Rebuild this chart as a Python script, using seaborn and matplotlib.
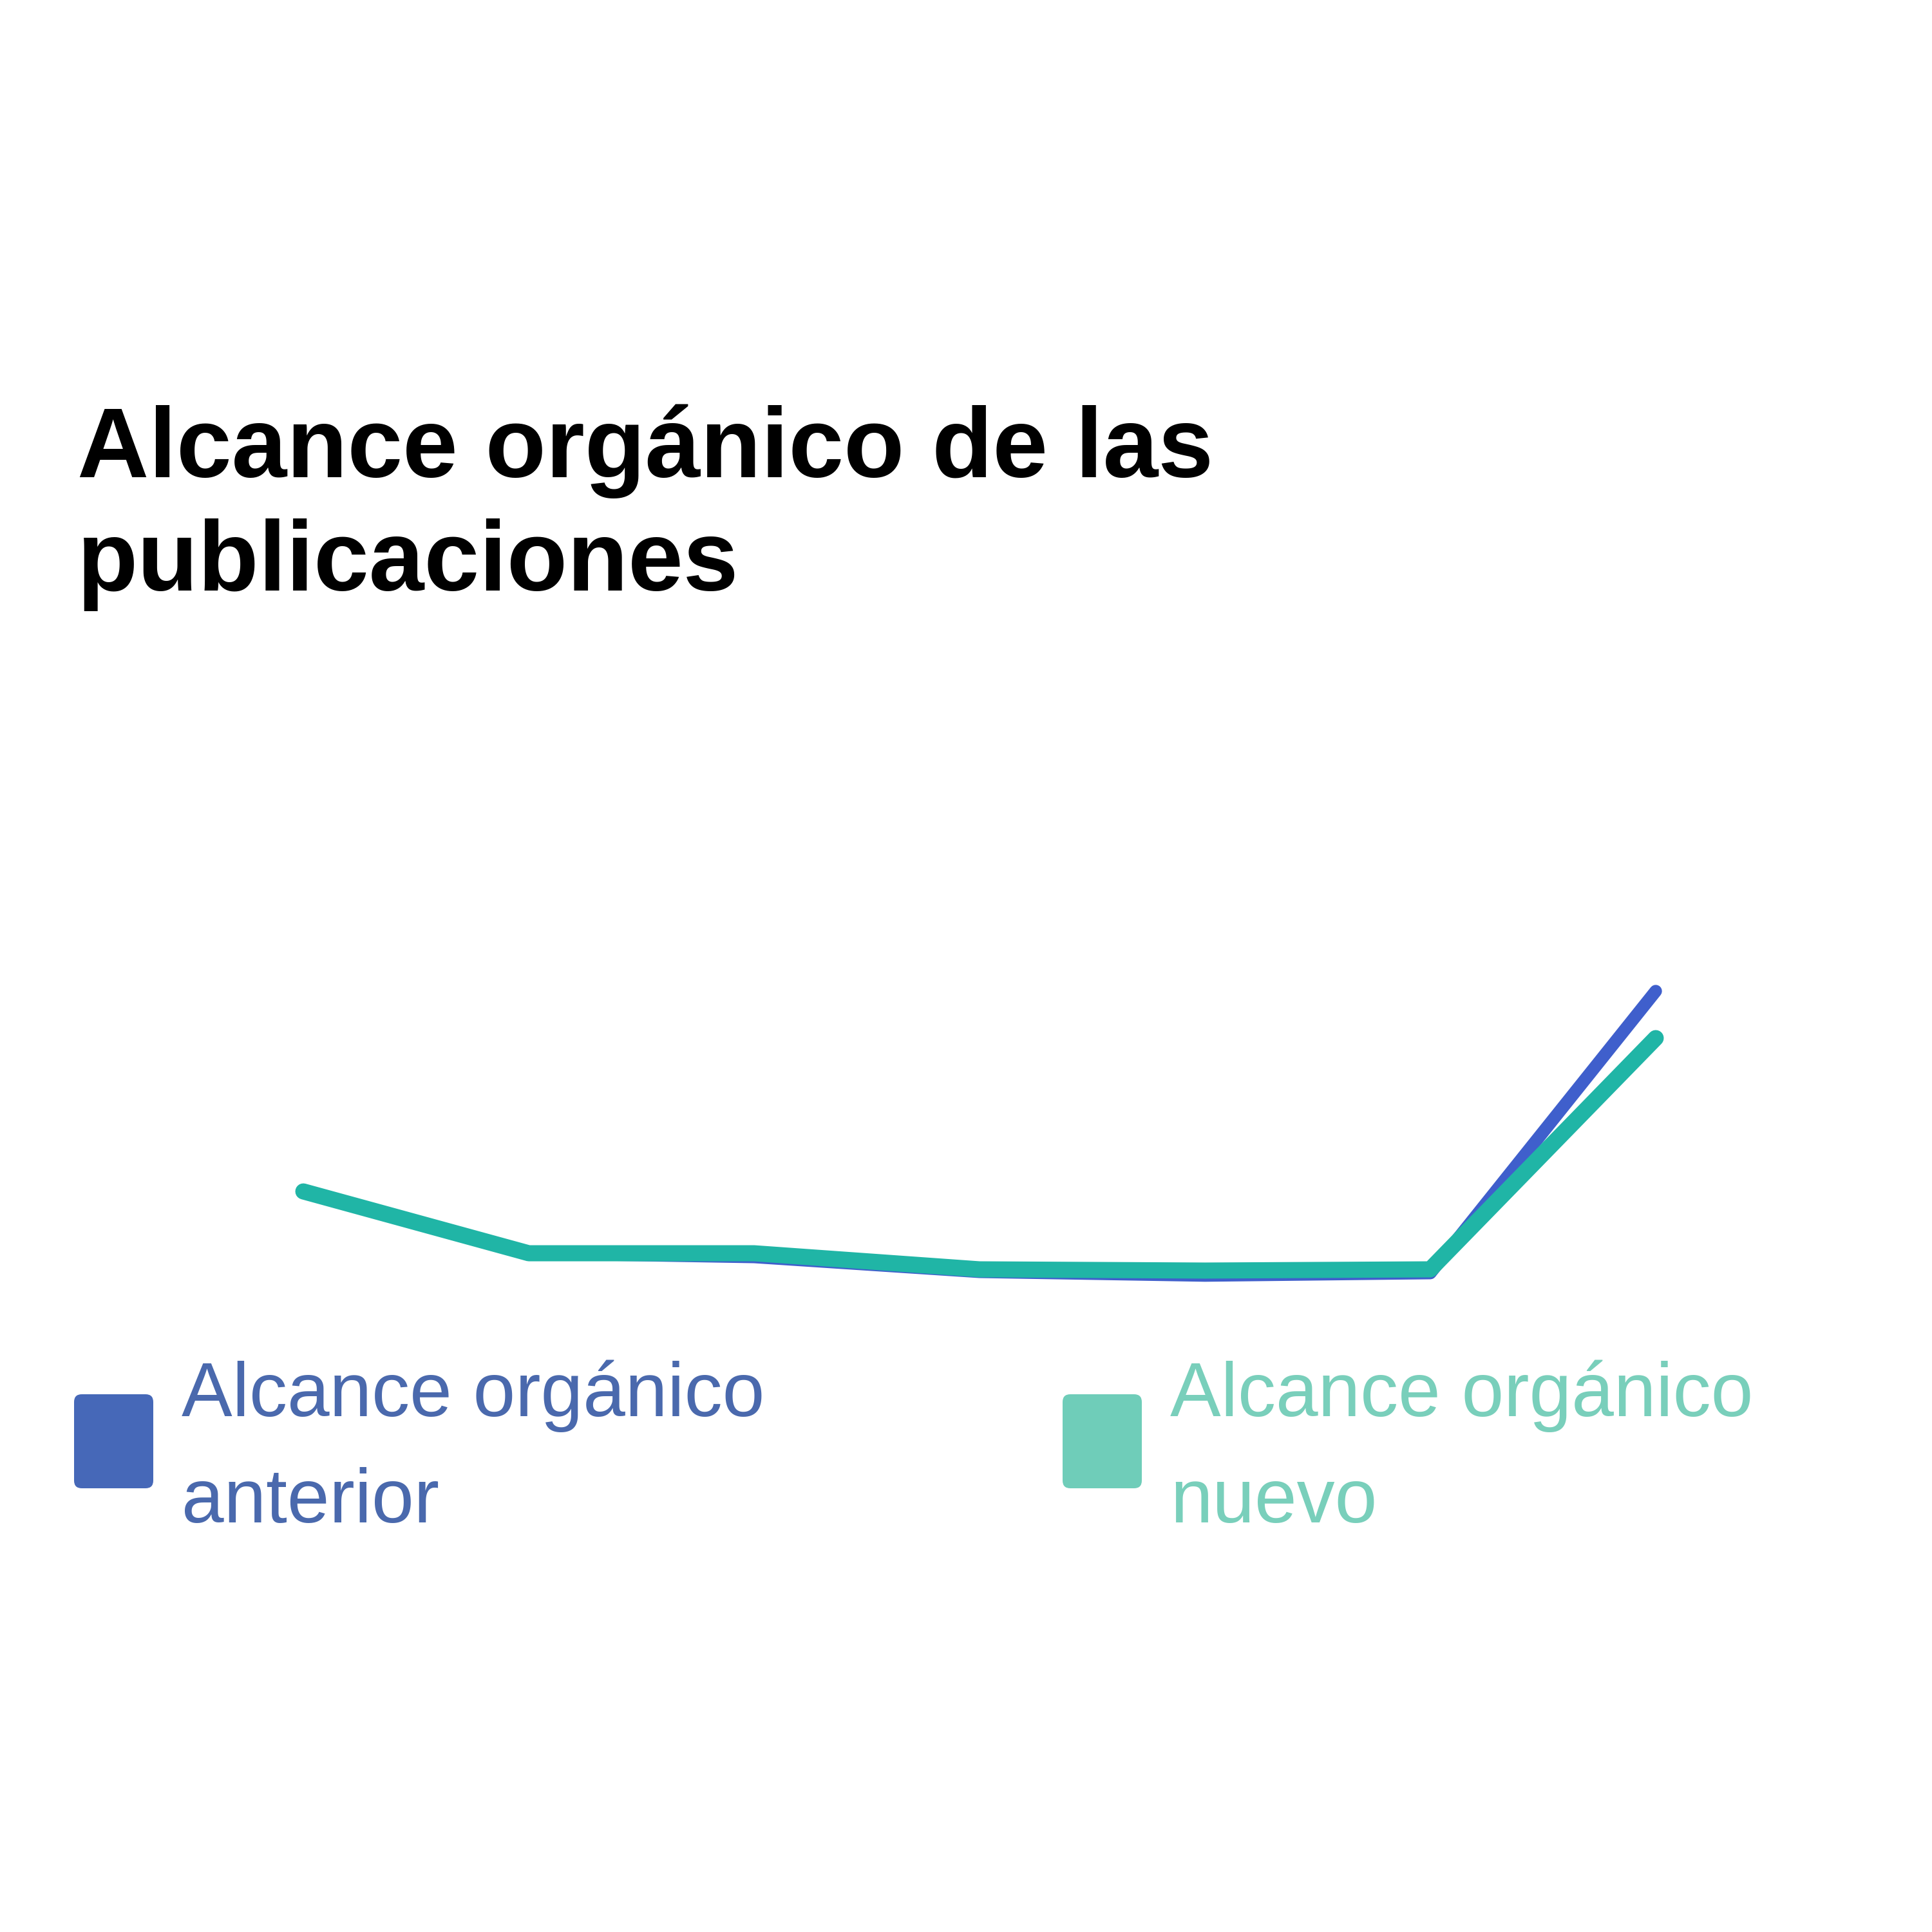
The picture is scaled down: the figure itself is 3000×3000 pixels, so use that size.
import pandas as pd
import matplotlib.pyplot as plt
import seaborn as sns
from matplotlib.patches import FancyBboxPatch

# data (arbitrary reach units, no axis shown)
puntos = [0, 1, 2, 3, 4, 5, 6]
anterior = [1380, 880, 850, 730, 700, 720, 3000]
nuevo = [1380, 880, 880, 750, 740, 750, 2620]
series = ['Alcance orgánico anterior', 'Alcance orgánico nuevo']
etiquetas = ['Alcance orgánico\nanterior', 'Alcance orgánico\nnuevo']
titulo = 'Alcance orgánico de las\npublicaciones'

linea_col = ['#3f5fcc', '#20b5a6']
caja_col = ['#4668b8', '#6fcdb9']
texto_col = ['#4a69ad', '#79cfbb']
grosor = [14, 18]

df = pd.DataFrame({
    'x': puntos * 2,
    'y': anterior + nuevo,
    'serie': [series[0]] * len(puntos) + [series[1]] * len(puntos),
})

sns.set_theme(style='white')
plt.rcParams['font.family'] = ['Liberation Sans', 'DejaVu Sans']

fig = plt.figure(figsize=(30, 30), dpi=100)
fig.patch.set_facecolor('white')

ax = fig.add_axes([0.157, 0.295, 0.700, 0.256])
sns.lineplot(data=df, x='x', y='y', hue='serie', hue_order=series,
             palette=linea_col, ax=ax, legend=False)
for ln, c, w in zip(ax.lines, linea_col, grosor):
    ln.set_color(c)
    ln.set_linewidth(w)
    ln.set_solid_capstyle('round')
    ln.set_solid_joinstyle('round')
    ln.set_clip_on(False)
ax.set_xlim(0, 6)
ax.set_ylim(0, 4000)
ax.axis('off')

fig.text(0.040, 0.791, titulo, fontsize=111, fontweight='bold',
         color='#000000', va='top', ha='left', linespacing=1.28)

cajas_x = [115 / 3000, 1650 / 3000]
textos_x = [282 / 3000, 1817 / 3000]
for i in range(2):
    caja = FancyBboxPatch((cajas_x[i], 1 - 2311 / 3000), 123 / 3000, 146 / 3000,
                          boxstyle='round,pad=0,rounding_size=0.004',
                          transform=fig.transFigure, facecolor=caja_col[i],
                          edgecolor='none')
    fig.patches.append(caja)
    fig.text(textos_x[i], 1 - 2112 / 3000, etiquetas[i], fontsize=85,
             color=texto_col[i], va='top', ha='left', linespacing=1.62)

plt.savefig('out.png', dpi=100, facecolor='white')
plt.close()
